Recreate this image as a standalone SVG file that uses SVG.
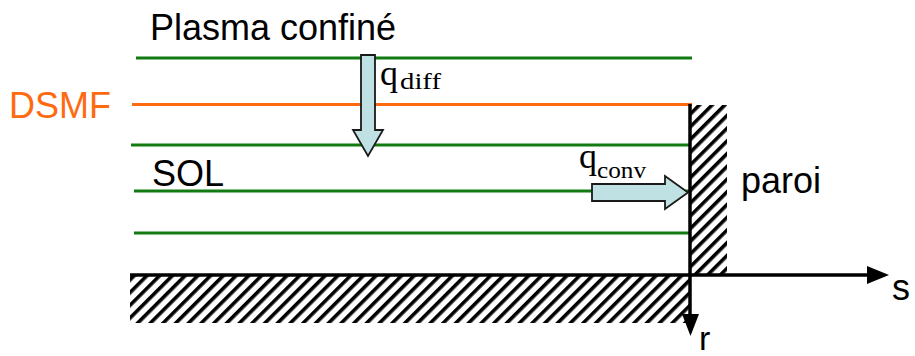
<svg xmlns="http://www.w3.org/2000/svg" width="915" height="356" viewBox="0 0 915 356">
<style>
.sans{font-family:"Liberation Sans",Arial,sans-serif;font-size:36px;fill:#000}
.serif{font-family:"Liberation Serif","Times New Roman",serif;fill:#000}
.green{stroke:#117a11;stroke-width:3}
.orange{stroke:#ff6a10;stroke-width:3}
.blk{stroke:#000;stroke-width:3.5;fill:none}
.flux{fill:#bfe1e4;stroke:#1a1a1a;stroke-width:1.8}
</style>
<defs>
<pattern id="hatch" patternUnits="userSpaceOnUse" width="9" height="9" patternTransform="rotate(45)">
<rect width="9" height="9" fill="#fff"/>
<rect x="0" y="0" width="3.6" height="9" fill="#000"/>
</pattern>
</defs>
<g id="hatches">
<rect x="690" y="105" width="37" height="170" fill="url(#hatch)"/>
<rect x="130" y="276" width="560" height="47" fill="url(#hatch)"/>
</g>
<g id="field-lines">
<line class="green" x1="136" y1="58" x2="692" y2="58"/>
<line class="orange" x1="132" y1="104.5" x2="692" y2="104.5"/>
<line class="green" x1="131" y1="145" x2="690" y2="145"/>
<line class="green" x1="134" y1="191" x2="690" y2="191"/>
<line class="green" x1="134" y1="233" x2="690" y2="233"/>
</g>
<g id="connectors">
<line class="blk" x1="130" y1="275" x2="872" y2="275"/>
<polygon points="867,266 889,275 867,284" fill="#000"/>
<line class="blk" x1="690" y1="104" x2="690" y2="318"/>
<polygon points="682,314 699,314 690.5,336" fill="#000"/>
</g>
<g id="q-diff">
<polygon class="flux" points="361,55 375,55 375,130 383,130 368,156 353,130 361,130"/>
<text class="serif" x="380" y="85" font-size="36">q</text>
<text class="serif" x="400" y="89" font-size="23" textLength="41" lengthAdjust="spacingAndGlyphs">diff</text>
</g>
<g id="q-conv">
<polygon class="flux" points="592,184 665,184 665,176 688,192.5 665,209 665,201 592,201"/>
<text class="serif" x="579" y="168" font-size="36">q</text>
<text class="serif" x="597" y="178" font-size="23" textLength="49" lengthAdjust="spacingAndGlyphs">conv</text>
</g>
<g id="labels">
<text class="sans" x="150" y="40">Plasma confiné</text>
<text class="sans" x="9" y="118" style="fill:#ff6a10">DSMF</text>
<text class="sans" x="152" y="186">SOL</text>
<text class="sans" x="741" y="193">paroi</text>
<text class="sans" x="892" y="300">s</text>
<text class="sans" x="699" y="350" style="font-size:34px">r</text>
</g>
</svg>
